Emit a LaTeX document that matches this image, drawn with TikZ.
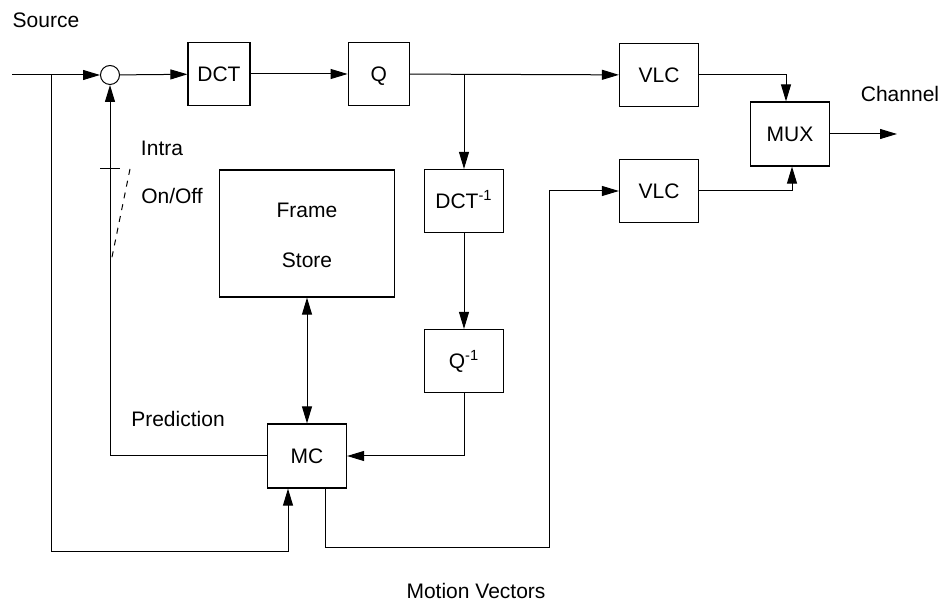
\documentclass[tikz,border=0pt]{standalone}
\usepackage{fontspec}
\setmainfont{Liberation Sans}
\usetikzlibrary{positioning,arrows.meta}

\begin{document}
\begin{tikzpicture}[
  x=0.5pt, y=-0.5pt,
  font=\fontsize{10.5}{12}\selectfont,
  blk/.style={draw, line width=0.6pt, minimum width=39.5pt, minimum height=31.5pt, inner sep=0pt,
    text height=7.5pt, text depth=0pt},
  lbl/.style={inner sep=0pt, text height=7.5pt, text depth=0pt},
  sumnode/.style={draw, circle, minimum size=9.5pt, inner sep=0pt},
  arr/.style={-{Triangle[length=8.5pt,width=5pt]}},
  arrtwo/.style={{Triangle[length=8.5pt,width=5pt]}-{Triangle[length=8.5pt,width=5pt]}},
  line width=0.5pt
]
\useasboundingbox (0,0) rectangle (942,603);

% blocks
\node[sumnode] (sum) at (110,75) {};
\node[blk, minimum width=31pt] (dct) at (219,74) {DCT};
\node[blk, minimum width=30.5pt, right=48.5pt of dct] (q) {Q};
\node[blk] (vlca) at (659,75) {VLC};
\node[blk] (vlcb) at (659,191) {VLC};
\node[blk, minimum height=32pt] (mux) at (790,134) {MUX};
\node[blk] (dcti) at (464,201) {DCT\textsuperscript{-1}};
\node[blk] (qi) at (464,361) {Q\textsuperscript{-1}};
\node[blk, minimum height=32pt] (mc) at (307,456) {MC};
\node[blk, minimum width=87.5pt, minimum height=63.5pt] (fs) at (307,233.5) {};
\node[lbl, above=11.5pt of fs.center, anchor=center] (fs-top) {Frame};
\node[lbl, below=13.5pt of fs.center, anchor=center] (fs-bot) {Store};

% labels
\node[lbl] (src-lbl) at (46,20) {Source};
\node[lbl] (ch-lbl) at (900,94) {Channel};
\node[lbl] (intra-lbl) at (162,148) {Intra};
\node[lbl] (onoff-lbl) at (172,196) {On/Off};
\node[lbl] (pred-lbl) at (178,419) {Prediction};
\node[lbl] (mv-lbl) at (476,591) {Motion Vectors};

% helper points
\coordinate (src) at (12,75);
\coordinate (br) at (51,75);
\coordinate (fbc) at (51,552);
\coordinate (qb) at (dcti |- q);
\coordinate (mvc) at (549,548);
\coordinate (chout) at (897,134);

% forward path
\draw[arr] (src) -- (sum);
\draw[arr] (sum) -- (dct);
\draw[arr] (dct) -- (q);
\draw[arr] (q) -- (vlca);
\draw[arr] (qb) -- (dcti);
\draw[arr] (dcti) -- (qi);
\draw[arr] (qi) |- (mc);
\draw[arr] (vlca) -| ([xshift=-2pt]mux.north);
\draw[arr] (vlcb) -| ([xshift=1pt]mux.south);
\draw[arr] (mux) -- (chout);

% prediction loop
\draw[arrtwo] (fs) -- (mc);
\draw[arr] (mc) -| (sum);
\draw[arr] (br) -- (fbc) -| ([xshift=-9.5pt]mc.south);
\draw[arr] ([xshift=9pt]mc.south) |- (mvc) |- (vlcb);

% intra switch
\draw (100,169) -- (120,169);
\draw[dashed] (130,169) -- (111,262);
\end{tikzpicture}
\end{document}
